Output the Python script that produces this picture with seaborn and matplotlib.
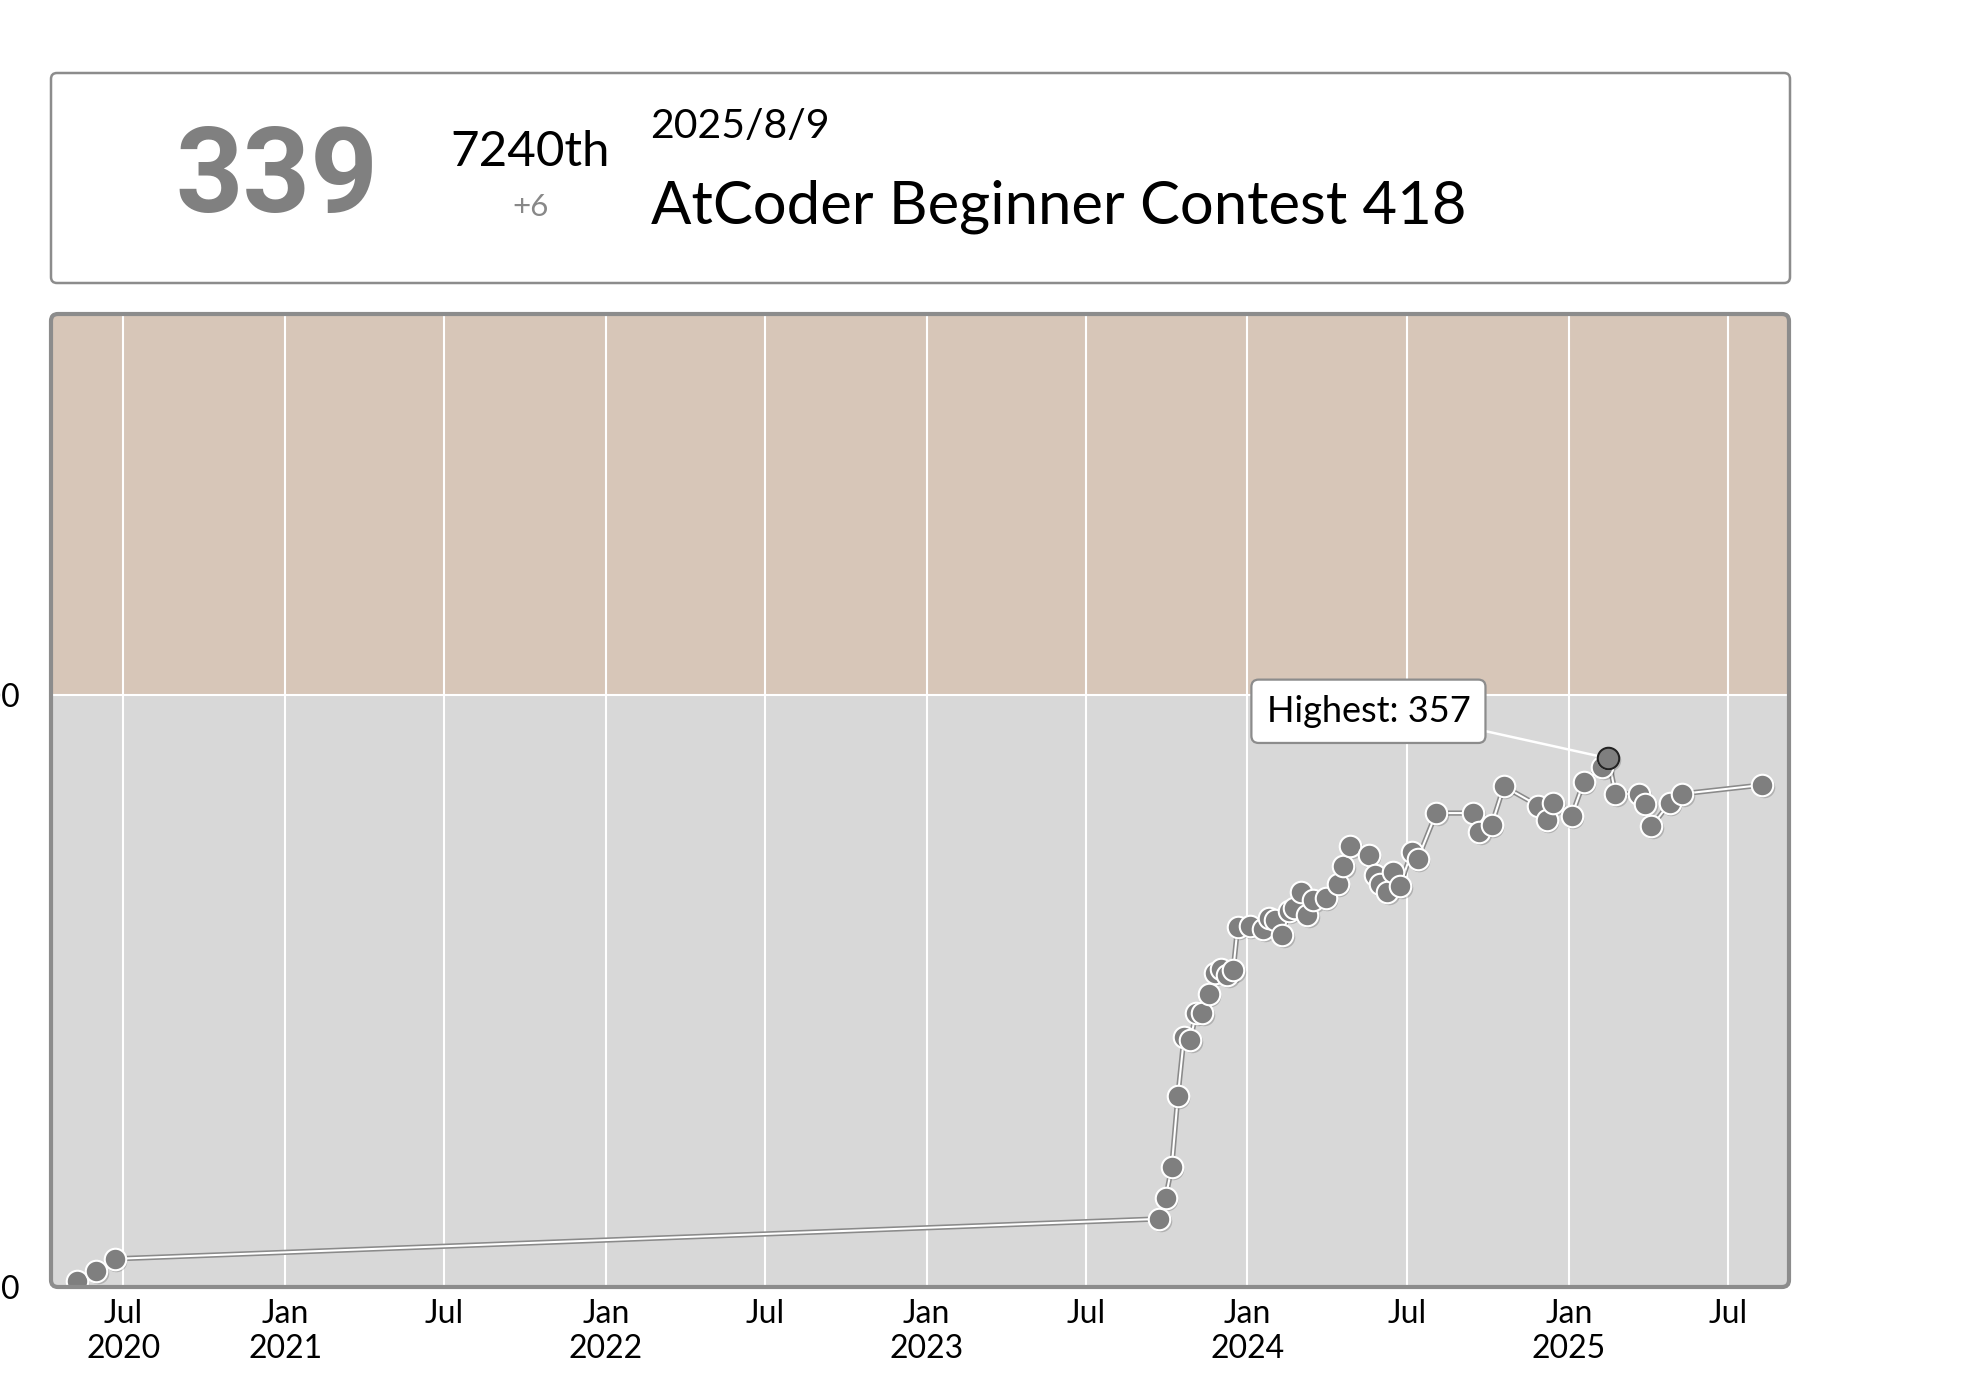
import matplotlib
matplotlib.use("Agg")
import matplotlib.pyplot as plt
import matplotlib.transforms as mtransforms
from matplotlib.patches import FancyBboxPatch
import pandas as pd
import seaborn as sns

# ---------------- data ----------------
contest_dates = [
    "2020-05-09", "2020-05-31", "2020-06-21",
    "2023-09-23", "2023-09-30", "2023-10-07", "2023-10-14", "2023-10-21", "2023-10-28",
    "2023-11-04", "2023-11-11", "2023-11-18", "2023-11-25", "2023-12-02", "2023-12-09",
    "2023-12-16", "2023-12-21",
    "2024-01-04", "2024-01-19", "2024-01-26", "2024-02-01", "2024-02-10", "2024-02-17",
    "2024-02-23", "2024-03-02", "2024-03-09", "2024-03-16", "2024-03-30", "2024-04-13",
    "2024-04-19", "2024-04-27", "2024-05-18", "2024-05-25", "2024-05-31", "2024-06-08",
    "2024-06-15", "2024-06-23", "2024-07-06", "2024-07-13", "2024-08-03", "2024-09-14",
    "2024-09-21", "2024-10-05", "2024-10-19", "2024-11-27", "2024-12-07", "2024-12-14",
    "2025-01-04", "2025-01-18", "2025-02-08", "2025-02-15", "2025-02-23", "2025-03-22",
    "2025-03-29", "2025-04-05", "2025-04-26", "2025-05-10", "2025-08-09",
]
ratings = [
    4, 11, 19,
    46, 60, 81, 129, 169, 167, 185, 185, 198, 212, 215, 211, 214, 243,
    244, 242, 249, 248, 238, 254, 256, 267, 251, 261, 263, 272, 284, 298,
    292, 278, 272, 267, 280, 271, 294, 289, 320, 320, 307, 312, 338, 325, 315, 327,
    318, 341, 351, 357, 333, 333, 326, 311, 327, 333, 339,
]
highest_value = 357
highest_label = "Highest: 357"

band_edges = [0, 400, 657]
band_colors = ["#D8D8D8", "#D7C6B8"]

tick_dates = ["2020-07-01", "2021-01-01", "2021-07-01", "2022-01-01", "2022-07-01",
              "2023-01-01", "2023-07-01", "2024-01-01", "2024-07-01", "2025-01-01",
              "2025-07-01"]
tick_labels = ["Jul\n2020", "Jan\n2021", "Jul", "Jan\n2022", "Jul", "Jan\n2023",
               "Jul", "Jan\n2024", "Jul", "Jan\n2025", "Jul"]
y_ticks = [0, 400]
y_tick_labels = ["0", "400"]

header_rating = "339"
header_rank = "7240th"
header_diff = "+6"
header_date = "2025/8/9"
header_contest = "AtCoder Beginner Contest 418"

x_range = ("2020-04-09 12:00", "2025-09-08 12:00")

# ---------------- style ----------------
sns.set_theme(style="white")
plt.rcParams["font.family"] = ["Lato", "DejaVu Sans"]

W, H = 1980, 1378
fig = plt.figure(figsize=(W / 100, H / 100), dpi=100)
fig.patch.set_facecolor("white")

ax_l, ax_r, ax_t, ax_b = 51, 1789, 314, 1287
ax = fig.add_axes([ax_l / W, (H - ax_b) / H, (ax_r - ax_l) / W, (ax_b - ax_t) / H])

df = pd.DataFrame({"date": pd.to_datetime(contest_dates), "rating": ratings})

# bands
for (lo, hi), c in zip(zip(band_edges[:-1], band_edges[1:]), band_colors):
    ax.axhspan(lo, hi, color=c, zorder=0, lw=0)

# connecting line (grey outline + white core)
sns.lineplot(data=df, x="date", y="rating", ax=ax, color="#8a8a8a", lw=3.8,
             zorder=2, sort=False)
sns.lineplot(data=df, x="date", y="rating", ax=ax, color="white", lw=1.5,
             zorder=3, sort=False)

# marker shadow
shadow_off = mtransforms.ScaledTranslation(1.5 / 100, -2 / 100, fig.dpi_scale_trans)
sns.scatterplot(data=df, x="date", y="rating", ax=ax, s=240, color="#000000",
                alpha=0.18, linewidth=0, zorder=3.5, legend=False)
ax.collections[-1].set_offset_transform(ax.transData + shadow_off)

# markers
sns.scatterplot(data=df, x="date", y="rating", ax=ax, s=240, color="#7f7f7f",
                edgecolor="white", linewidth=1.5, zorder=4, legend=False)

# highest point
hi_df = df[df["rating"] == highest_value]
sns.scatterplot(data=hi_df, x="date", y="rating", ax=ax, s=240, color="#7f7f7f",
                edgecolor="#222222", linewidth=1.5, zorder=7, legend=False)

ax.annotate(highest_label, xy=(hi_df["date"].iloc[0], highest_value),
            xytext=(-240, 47), textcoords="offset pixels",
            ha="center", va="center", fontsize=26, color="black", zorder=6,
            bbox=dict(boxstyle="round,pad=0.42,rounding_size=0.2", fc="white",
                      ec="#8c8c8c", lw=1.6),
            arrowprops=dict(arrowstyle="-", color="white", lw=1.8,
                            relpos=(1, 0), shrinkA=0, shrinkB=0))

ax.set_xlim(pd.Timestamp(x_range[0]), pd.Timestamp(x_range[1]))
ax.set_ylim(band_edges[0], band_edges[-1])

ax.set_xticks(pd.to_datetime(tick_dates))
ax.set_xticklabels(tick_labels, fontsize=23, linespacing=1.22)
ax.set_yticks(y_ticks)
ax.set_yticklabels(y_tick_labels, fontsize=23)
ax.tick_params(axis="x", length=0, pad=8.5, colors="black")
ax.tick_params(axis="y", length=0, pad=22.3, colors="black")
ax.set_xlabel("")
ax.set_ylabel("")

ax.set_axisbelow(True)
ax.grid(True, axis="both", color="white", lw=1.5)
for sp in ax.spines.values():
    sp.set_visible(False)

ident = mtransforms.IdentityTransform()
# plot frame (rounded)
frame = FancyBboxPatch((ax_l, H - ax_b), ax_r - ax_l, ax_b - ax_t,
                       boxstyle="round,pad=0,rounding_size=7", transform=ident,
                       fc="none", ec="#8c8c8c", lw=3.0, zorder=10)
fig.add_artist(frame)

# header box
hb_l, hb_r, hb_t, hb_b = 51, 1790, 73, 283
header = FancyBboxPatch((hb_l, H - hb_b), hb_r - hb_l, hb_b - hb_t,
                        boxstyle="round,pad=0,rounding_size=6", transform=ident,
                        fc="white", ec="#8c8c8c", lw=1.8, zorder=1)
fig.add_artist(header)

fig.text(276.7 / W, (H - 212) / H, header_rating, ha="center", va="baseline",
         fontsize=85, fontweight="bold", color="#808080",
         family=["Roboto", "DejaVu Sans"], zorder=2)
fig.text(530 / W, (H - 166) / H, header_rank, ha="center", va="baseline",
         fontsize=35.5, color="black", zorder=2)
fig.text(530.5 / W, (H - 216) / H, header_diff, ha="center", va="baseline",
         fontsize=22.5, color="#888888", zorder=2)
fig.text(650 / W, (H - 138.3) / H, header_date, ha="left", va="baseline",
         fontsize=29.5, color="black", zorder=2)
fig.text(651 / W, (H - 223.3) / H, header_contest, ha="left", va="baseline",
         fontsize=43, color="black", zorder=2)

fig.savefig("out.png", dpi=100, facecolor="white")
